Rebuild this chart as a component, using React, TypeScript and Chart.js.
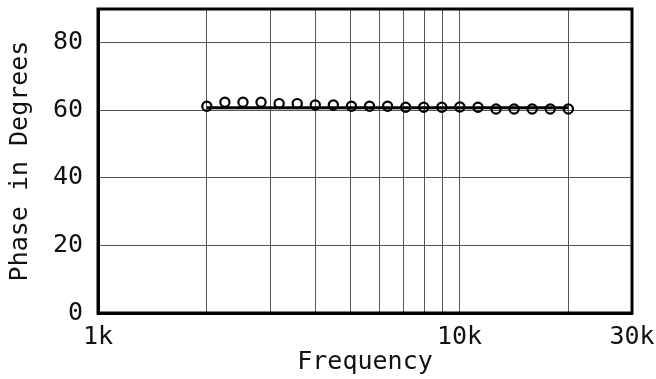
import React, { useEffect, useRef } from "react";
import { Chart, registerables } from "chart.js";
Chart.register(...registerables);

const freqs = [2000, 2244, 2518, 2825, 3170, 3557, 3991, 4477, 5024, 5637, 6325, 7096, 7962, 8934, 10024, 11247, 12619, 14159, 15887, 17825, 20000];
const phase = [61.2, 62.4, 62.4, 62.4, 62.0, 62.0, 61.6, 61.6, 61.2, 61.2, 61.2, 60.9, 60.9, 60.9, 61.0, 60.9, 60.4, 60.4, 60.4, 60.4, 60.4];
const refFreqs = [2000, 20000];
const refPhase = [60.8, 60.8];
const xTicks = [1000, 2000, 3000, 4000, 5000, 6000, 7000, 8000, 9000, 10000, 20000, 30000];
const xLabeled: Record<number, string> = { 1000: "1k", 10000: "10k", 30000: "30k" };
const yTicks = [0, 20, 40, 60, 80];

const FONT = "'DejaVu Sans Mono', monospace";
const SIZE = 25;

const frame = {
  id: "frame",
  afterDraw(chart: any) {
    const { ctx, chartArea: a } = chart;
    ctx.save();
    ctx.strokeStyle = "#000";
    ctx.lineWidth = 3;
    ctx.strokeRect(a.left, a.top, a.right - a.left, a.bottom - a.top);
    ctx.restore();
  },
};

export default function App() {
  const ref = useRef<HTMLCanvasElement>(null);
  useEffect(() => {
    const chart = new Chart(ref.current!, {
      type: "scatter",
      data: {
        datasets: [
          {
            data: refFreqs.map((f, i) => ({ x: f, y: refPhase[i] })),
            showLine: true,
            borderColor: "#000",
            borderWidth: 3,
            pointRadius: 0,
          },
          {
            data: freqs.map((f, i) => ({ x: f, y: phase[i] })),
            showLine: false,
            borderColor: "#000",
            backgroundColor: "rgba(255,255,255,0)",
            pointRadius: 4.6,
            pointBorderWidth: 2.2,
          },
        ],
      },
      options: {
        animation: false,
        responsive: true,
        maintainAspectRatio: false,
        layout: { padding: { top: 9, right: 24, left: 0, bottom: 0 } },
        plugins: { legend: { display: false }, tooltip: { enabled: false } },
        scales: {
          x: {
            type: "logarithmic",
            min: 1000,
            max: 30000,
            afterBuildTicks: (s: any) => {
              s.ticks = xTicks.map((v) => ({ value: v }));
            },
            afterFit: (s: any) => {
              s.height = 66;
              s.paddingRight = 0;
              s.paddingLeft = 0;
            },
            ticks: {
              autoSkip: false,
              maxRotation: 0,
              padding: 9,
              color: "#111",
              font: { family: FONT, size: SIZE },
              callback: (v: any) => xLabeled[Number(v)] ?? "",
            },
            grid: { color: "#555", lineWidth: 1, drawTicks: false },
            border: { color: "#000", width: 3 },
            title: {
              display: true,
              text: "Frequency",
              color: "#111",
              font: { family: FONT, size: SIZE },
              padding: { top: 0, bottom: 2 },
            },
          },
          y: {
            min: 0,
            max: 90,
            afterBuildTicks: (s: any) => {
              s.ticks = yTicks.map((v) => ({ value: v }));
            },
            afterFit: (s: any) => {
              s.width = 98;
              s.paddingTop = 0;
              s.paddingBottom = 0;
            },
            ticks: {
              padding: 15,
              color: "#111",
              font: { family: FONT, size: SIZE },
            },
            grid: { color: "#555", lineWidth: 1, drawTicks: false },
            border: { color: "#000", width: 3 },
            title: {
              display: true,
              text: "Phase in Degrees",
              color: "#111",
              font: { family: FONT, size: SIZE },
              padding: { top: 5, bottom: 0 },
            },
          },
        },
      },
      plugins: [frame],
    } as any);
    return () => chart.destroy();
  }, []);
  return (
    <div style={{ position: "fixed", left: 0, top: 0, width: 656, height: 379, background: "#fff" }}>
      <canvas ref={ref} />
    </div>
  );
}
